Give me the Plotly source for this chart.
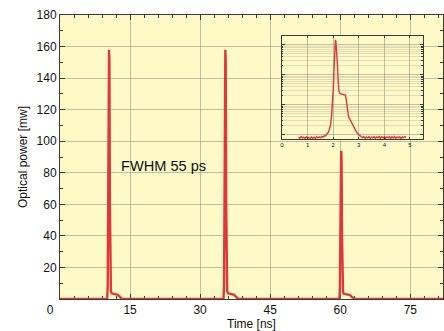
import plotly.graph_objects as go

# ---------------- data ----------------
# main trace: three pulses (time in ns, optical power in mW)
time_ns = [0, 10.1, 10.22, 10.32, 10.42, 10.5, 10.58, 10.68, 10.78, 10.9, 11.05, 11.5, 12.0, 12.4, 12.7, 13.0, 13.3,
           35.0, 35.12, 35.22, 35.32, 35.4, 35.48, 35.58, 35.68, 35.8, 35.95, 36.4, 36.9, 37.3, 37.6, 37.9, 38.2,
           59.8, 59.92, 60.02, 60.12, 60.2, 60.28, 60.38, 60.48, 60.6, 60.75, 61.2, 61.7, 62.1, 62.4, 62.7, 63.0,
           82]
power_mw = [0, 0, 8, 60, 150, 158, 150, 60, 14, 5, 3.6, 3.3, 3.0, 2.6, 1.6, 0.5, 0,
            0, 8, 60, 150, 158, 150, 60, 14, 5, 3.6, 3.3, 3.0, 2.6, 1.6, 0.5, 0,
            0, 6, 40, 88, 94, 88, 40, 10, 4, 3.4, 3.2, 2.9, 2.5, 1.5, 0.5, 0,
            0]

# inset trace (single pulse, log scale)
inset_t = [0.65, 0.7, 0.75, 0.8, 0.85, 0.9, 0.95, 1.0, 1.05, 1.1, 1.15, 1.2, 1.25, 1.3, 1.35, 1.4, 1.45, 1.5,
           1.55, 1.6, 1.65, 1.7, 1.75, 1.8, 1.85, 1.9, 1.94, 1.98, 2.01, 2.04, 2.07, 2.09, 2.11, 2.14, 2.17,
           2.2, 2.23, 2.28, 2.35, 2.42, 2.48, 2.52, 2.56, 2.6, 2.66, 2.72, 2.78, 2.85, 2.92, 3.0, 3.05, 3.1,
           3.15, 3.2, 3.25, 3.3, 3.35, 3.4, 3.45, 3.5, 3.55, 3.6, 3.65, 3.7, 3.75, 3.8, 3.85, 3.9, 3.95, 4.0,
           4.05, 4.1, 4.15, 4.2, 4.25, 4.3, 4.35, 4.4, 4.45, 4.5, 4.55, 4.6, 4.65, 4.7, 4.75, 4.8, 4.85]
inset_p = [0.84, 0.76, 0.86, 0.78, 0.83, 0.75, 0.85, 0.77, 0.82, 0.74, 0.84, 0.76, 0.83, 0.75, 0.86, 0.78, 0.84, 0.79,
           0.88, 0.82, 0.92, 0.9, 1.05, 1.15, 1.5, 2.2, 4.5, 12, 40, 200, 900, 1450, 1250, 600, 200,
           55, 27, 23.5, 23, 22, 21, 13, 5.5, 4.0, 3.2, 2.5, 2.0, 1.5, 1.2, 1.0, 0.9, 0.86,
           0.8, 0.86, 0.76, 0.84, 0.78, 0.86, 0.75, 0.83, 0.78, 0.87, 0.76, 0.84, 0.79, 0.88, 0.75, 0.85, 0.78, 0.86,
           0.76, 0.84, 0.79, 0.87, 0.75, 0.85, 0.78, 0.88, 0.76, 0.84, 0.79, 0.86, 0.75, 0.85, 0.8, 0.87, 0.82]

x_ticks = [0, 15, 30, 45, 60, 75]
x_ticktext = ["0" + "\u00a0" * 6, "15", "30", "45", "60", "75"]
y_ticks = [20, 40, 60, 80, 100, 120, 140, 160, 180]
inset_x_ticks = [0, 1, 2, 3, 4, 5]
inset_y_major = [1, 10, 100, 1000]
inset_y_minor = [2, 3, 4, 5, 6, 7, 8, 9, 20, 30, 40, 50, 60, 70, 80, 90,
                 200, 300, 400, 500, 600, 700, 800, 900]

RED = "#e0383a"
BG = "#fefac8"
GRID = "rgba(120,120,110,0.45)"
AXC = "#3a3a3a"
FONT = "Liberation Sans, Arial, sans-serif"

fig = go.Figure()
fig.add_trace(go.Scatter(x=time_ns, y=power_mw, mode="lines",
                         line=dict(color=RED, width=2.4), xaxis="x", yaxis="y",
                         showlegend=False, hoverinfo="skip"))
fig.add_trace(go.Scatter(x=inset_t, y=inset_p, mode="lines",
                         line=dict(color=RED, width=1.4), xaxis="x2", yaxis="y2",
                         showlegend=False, hoverinfo="skip"))

fig.update_layout(
    width=444, height=331,
    margin=dict(l=60, r=1, t=15, b=32, autoexpand=False),
    paper_bgcolor="white", plot_bgcolor=BG,
    font=dict(family=FONT, size=12, color="#111"),
    xaxis=dict(domain=[0, 1], range=[0, 82], tickvals=x_ticks, ticktext=x_ticktext,
               ticks="inside", ticklen=5, tickcolor=AXC, showline=True, linecolor=AXC,
               linewidth=1, mirror="ticks", showgrid=True, gridcolor=GRID, gridwidth=1,
               zeroline=False, layer="below traces", automargin=False,
               minor=dict(dtick=3, ticks="inside", ticklen=3, tickcolor=AXC, showgrid=False),
               title=dict(text="Time [ns]", standoff=3, font=dict(size=12))),
    yaxis=dict(domain=[0, 1], range=[0, 180], tickvals=y_ticks,
               ticks="inside", ticklen=5, tickcolor=AXC, showline=True, linecolor=AXC,
               linewidth=1, mirror="ticks", showgrid=True, gridcolor=GRID, gridwidth=1,
               zeroline=False, layer="below traces", automargin=False,
               minor=dict(dtick=10, ticks="inside", ticklen=3, tickcolor=AXC, showgrid=False),
               title=dict(text="Optical power [mw]", standoff=6, font=dict(size=12))),
    xaxis2=dict(domain=[0.5796, 0.947], anchor="y2", range=[0, 5.5], tickvals=inset_x_ticks,
                ticks="inside", ticklen=2, tickcolor=AXC, showline=True, linecolor=AXC,
                linewidth=1, mirror="ticks", showgrid=True, gridcolor=GRID, gridwidth=1,
                zeroline=False, tickfont=dict(size=6), ticklabelstandoff=0, automargin=False),
    yaxis2=dict(domain=[0.5634, 0.927], anchor="x2", type="log", range=[-0.143, 3.3],
                tickvals=inset_y_major, showticklabels=False, automargin=False,
                ticks="inside", ticklen=3, tickcolor=AXC, showline=True, linecolor=AXC,
                linewidth=1, mirror="ticks", showgrid=True, gridcolor=GRID, gridwidth=1,
                zeroline=False,
                minor=dict(tickvals=inset_y_minor, ticks="inside", ticklen=1.5, tickcolor=AXC,
                           showgrid=True, gridcolor="rgba(120,120,110,0.22)", gridwidth=1)),
    shapes=[dict(type="rect", xref="x2 domain", yref="y2 domain", x0=0, x1=1, y0=0, y1=1,
                 fillcolor=BG, line=dict(width=0), layer="below")],
    annotations=[dict(x=22.2, y=84, xref="x", yref="y", text="FWHM 55 ps", showarrow=False,
                      font=dict(size=14.6, family=FONT, color="#111"))],
)

fig.write_html("out.html", config={"displayModeBar": False},
               post_script="document.body.style.margin='0';document.body.style.padding='0';")
